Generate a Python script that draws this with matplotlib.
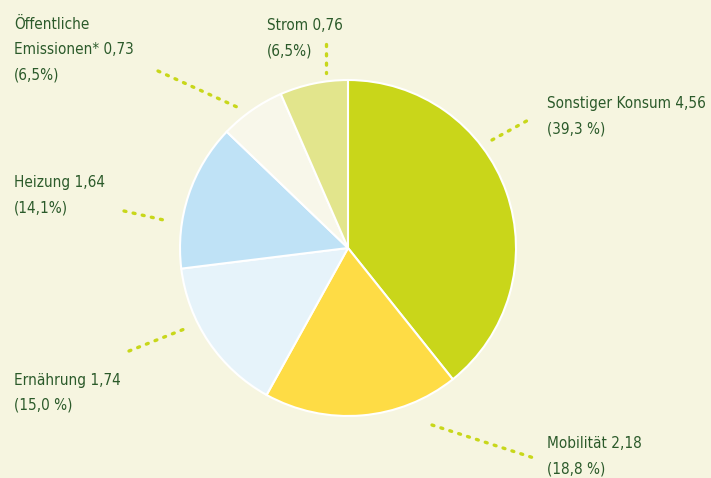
import matplotlib.pyplot as plt

# Daten
kategorien = ['Sonstiger Konsum', 'Mobilität', 'Ernährung', 'Heizung',
              'Öffentliche\nEmissionen*', 'Strom']
werte = [4.56, 2.18, 1.74, 1.64, 0.73, 0.76]
prozente = ['(39,3 %)', '(18,8 %)', '(15,0 %)', '(14,1%)', '(6,5%)', '(6,5%)']
farben = ['#c9d61a', '#fedc45', '#e6f3fa', '#bfe2f6', '#f8f7ea', '#e2e58c']

bg = '#f6f5e0'
txt = '#2b5a2a'
dots = '#c8d71a'
H = 478

fig = plt.figure(figsize=(7.11, 4.78), dpi=100, facecolor=bg)
ax = fig.add_axes([0, 0, 1, 1])
ax.set_facecolor(bg)

ax.pie(werte, colors=farben, startangle=90, counterclock=False,
       center=(348, H - 248), radius=168, frame=True,
       wedgeprops=dict(edgecolor='white', linewidth=1.5))
ax.set_xlim(0, 711)
ax.set_ylim(0, H)
ax.set_aspect('equal')
ax.axis('off')

# Beschriftung: x, Grundlinie der ersten Zeile (Pixel von oben)
pos = [(547, 108), (547, 448), (14, 385), (14, 187), (14, 29), (267, 30)]
# Hinweislinien (Pixel von oben)
linien = [((492, 140), (532, 118)),
          ((432, 425), (537, 459)),
          ((129, 351), (187, 328)),
          ((124, 211), (168, 221)),
          ((158, 71), (237, 107)),
          ((326, 44), (326, 73))]

fs = 11
for k, w, p, (x, y) in zip(kategorien, werte, prozente, pos):
    zeilen = (k + ' ' + f'{w:.2f}'.replace('.', ',')).split('\n') + [p]
    for i, z in enumerate(zeilen):
        ax.text(x, H - (y + i * 25), z, color=txt, fontsize=fs,
                family='DejaVu Sans', fontstretch='condensed',
                ha='left', va='baseline')

for (x0, y0), (x1, y1) in linien:
    ax.plot([x0, x1], [H - y0, H - y1], color=dots, linestyle=(0, (0.6, 2.2)),
            linewidth=2.4, dash_capstyle='round')

fig.savefig('out.png', dpi=100, facecolor=bg)
